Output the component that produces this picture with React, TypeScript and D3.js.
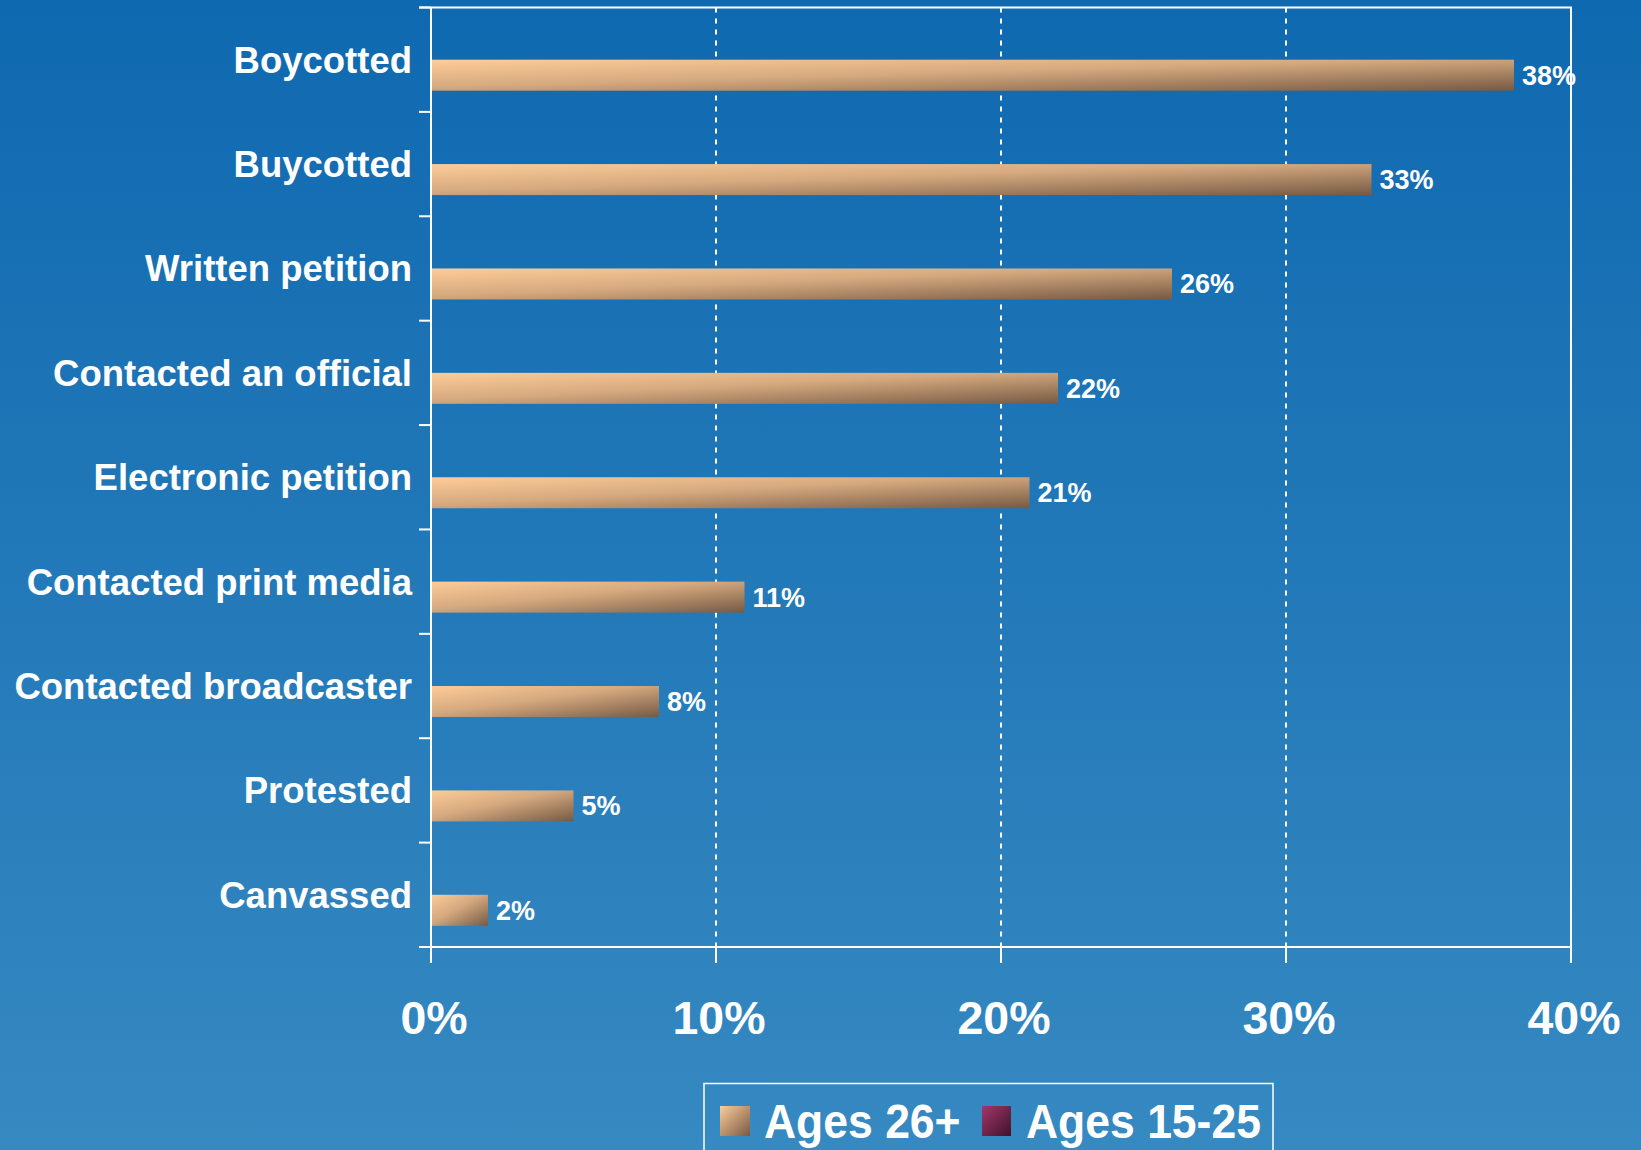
import React from "react";
import * as d3 from "d3";

const categories = [
  "Boycotted",
  "Buycotted",
  "Written petition",
  "Contacted an official",
  "Electronic petition",
  "Contacted print media",
  "Contacted broadcaster",
  "Protested",
  "Canvassed",
];
const ages26Plus = [0.38, 0.33, 0.26, 0.22, 0.21, 0.11, 0.08, 0.05, 0.02];
const seriesNames = ["Ages 15-25", "Ages 26+"];
const xTicks = [0, 0.1, 0.2, 0.3, 0.4];

const W = 1641;
const H = 1150;
const FONT = "'Liberation Sans', Arial, Helvetica, sans-serif";

export default function App() {
  const x = d3.scaleLinear().domain([0, 0.4]).range([431, 1571]);
  const y = d3.scaleBand<string>().domain(categories).range([7.5, 947]).padding(0);
  const bw = y.bandwidth();
  const sub = d3
    .scaleBand<string>()
    .domain(seriesNames)
    .range([bw / 2 - 31, bw / 2 + 31])
    .padding(0);
  const fmt = d3.format(".0%");
  const boundaries = d3.range(categories.length + 1).map((i) => 7.5 + i * bw);

  return (
    <svg
      width={W}
      height={H}
      style={{ position: "absolute", left: 0, top: 0, display: "block" }}
      fontFamily={FONT}
    >
      <defs>
        <linearGradient id="bg" x1="0" y1="0" x2="0" y2="1">
          <stop offset="0" stopColor="#0F69B0" />
          <stop offset="1" stopColor="#3689C1" />
        </linearGradient>
        <linearGradient id="barG" x1="0" y1="0" x2="1" y2="1">
          <stop offset="0" stopColor="#FDCC98" />
          <stop offset="0.45" stopColor="#D5A97F" />
          <stop offset="1" stopColor="#765A44" />
        </linearGradient>
        <linearGradient id="swA" x1="0" y1="0" x2="1" y2="1">
          <stop offset="0" stopColor="#FDCC98" />
          <stop offset="1" stopColor="#765A44" />
        </linearGradient>
        <linearGradient id="swB" x1="0" y1="0" x2="1" y2="1">
          <stop offset="0" stopColor="#A3376C" />
          <stop offset="1" stopColor="#3F1229" />
        </linearGradient>
      </defs>
      <rect x={0} y={0} width={W} height={H} fill="url(#bg)" />

      {/* gridlines */}
      {xTicks.slice(1).map((t) => (
        <line
          key={"g" + t}
          x1={x(t)}
          x2={x(t)}
          y1={7.5}
          y2={947}
          stroke="#fff"
          strokeWidth={2}
          strokeDasharray="5,6"
        />
      ))}

      {/* bars */}
      {categories.map((c, i) => {
        const v = ages26Plus[i];
        const by = (y(c) as number) + (sub("Ages 26+") as number);
        return (
          <g key={c}>
            <rect
              x={x(0)}
              y={by}
              width={x(v) - x(0)}
              height={sub.bandwidth()}
              fill="url(#barG)"
            />
            <text
              x={x(v) + 8}
              y={by + sub.bandwidth() / 2 + 9.5}
              fill="#fff"
              fontSize={27}
              fontWeight="bold"
            >
              {fmt(v)}
            </text>
          </g>
        );
      })}

      {/* frame */}
      <line x1={419} x2={1572} y1={7.5} y2={7.5} stroke="#fff" strokeWidth={2} />
      <line x1={1571} x2={1571} y1={7.5} y2={963} stroke="#fff" strokeWidth={2} />
      <line x1={419} x2={1571} y1={947} y2={947} stroke="#fff" strokeWidth={2} />
      <line x1={431} x2={431} y1={7.5} y2={963} stroke="#fff" strokeWidth={2} />

      {/* y ticks */}
      {boundaries.map((b, i) => (
        <line key={"yt" + i} x1={419} x2={431} y1={b} y2={b} stroke="#fff" strokeWidth={2} />
      ))}
      {/* x ticks */}
      {xTicks.map((t) => (
        <line key={"xt" + t} x1={x(t)} x2={x(t)} y1={947} y2={963} stroke="#fff" strokeWidth={2} />
      ))}

      {/* category labels */}
      {categories.map((c) => (
        <text
          key={"l" + c}
          x={412}
          y={(y(c) as number) + bw / 2 + 13}
          textAnchor="end"
          fill="#fff"
          fontSize={36.5}
          fontWeight="bold"
        >
          {c}
        </text>
      ))}

      {/* x tick labels */}
      {xTicks.map((t) => (
        <text
          key={"xl" + t}
          x={x(t) + 3}
          y={1034}
          textAnchor="middle"
          fill="#fff"
          fontSize={46.5}
          fontWeight="bold"
        >
          {fmt(t)}
        </text>
      ))}

      {/* legend */}
      <rect x={704} y={1083.5} width={569} height={90} fill="none" stroke="#fff" strokeWidth={1.5} />
      <rect x={720} y={1106} width={30} height={30} fill="url(#swA)" />
      <text
        transform="translate(764,1138) scale(1,1.08)"
        fill="#fff"
        fontSize={44.5}
        fontWeight="bold"
      >
        {seriesNames[1]}
      </text>
      <rect x={982} y={1106} width={29} height={30} fill="url(#swB)" />
      <text
        transform="translate(1026,1138) scale(1,1.08)"
        fill="#fff"
        fontSize={44.5}
        fontWeight="bold"
      >
        {seriesNames[0]}
      </text>
    </svg>
  );
}
